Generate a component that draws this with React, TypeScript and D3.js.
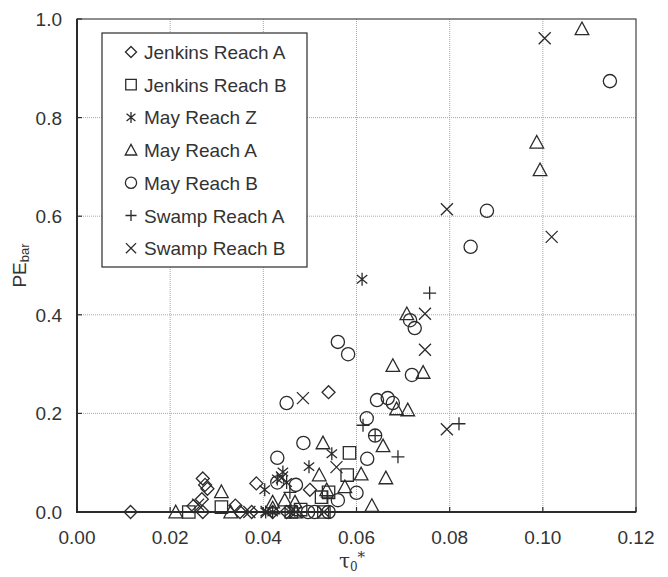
import React from "react";
import * as d3 from "d3";

const xTicks = [0, 0.02, 0.04, 0.06, 0.08, 0.1, 0.12];
const yTicks = [0, 0.2, 0.4, 0.6, 0.8, 1.0];

const jenkinsA: [number, number][] = [
  [0.0115, 0.0], [0.025, 0.012], [0.0268, 0.026], [0.027, 0.068], [0.0275, 0.055],
  [0.028, 0.047], [0.027, 0.0], [0.034, 0.013], [0.035, 0.0], [0.0375, 0.0],
  [0.0385, 0.058], [0.042, 0.0], [0.05, 0.045], [0.054, 0.243], [0.045, 0.0],
];
const jenkinsB: [number, number][] = [
  [0.024, 0.0], [0.031, 0.01], [0.046, 0.0], [0.048, 0.005], [0.0525, 0.03],
  [0.054, 0.04], [0.058, 0.075], [0.0585, 0.12], [0.053, 0.0],
];
const mayZ: [number, number][] = [
  [0.0403, 0.045], [0.043, 0.067], [0.0442, 0.081], [0.0498, 0.092], [0.0547, 0.118],
  [0.0612, 0.472], [0.0405, 0.0], [0.042, 0.0], [0.0457, 0.0], [0.045, 0.06],
];
const mayA: [number, number][] = [
  [0.0212, 0.0], [0.031, 0.041], [0.033, 0.0], [0.042, 0.008], [0.042, 0.02],
  [0.0446, 0.024], [0.0468, 0.02], [0.047, 0.0], [0.052, 0.075], [0.0528, 0.14],
  [0.0536, 0.045], [0.0575, 0.051], [0.061, 0.077], [0.0633, 0.013], [0.0657, 0.134],
  [0.0663, 0.069], [0.0678, 0.297], [0.0686, 0.209], [0.0708, 0.402], [0.071, 0.207],
  [0.0743, 0.283], [0.0987, 0.75], [0.0994, 0.694], [0.1084, 0.98],
];
const mayB: [number, number][] = [
  [0.043, 0.06], [0.043, 0.11], [0.045, 0.221], [0.047, 0.055], [0.0486, 0.14],
  [0.0496, 0.0], [0.051, 0.0], [0.054, 0.0], [0.056, 0.024], [0.056, 0.345],
  [0.0582, 0.32], [0.06, 0.039], [0.0622, 0.19], [0.0623, 0.108], [0.064, 0.155],
  [0.0644, 0.227], [0.0667, 0.231], [0.0678, 0.221], [0.0715, 0.389], [0.0719, 0.278],
  [0.0725, 0.373], [0.0845, 0.538], [0.088, 0.611], [0.1144, 0.874],
];
const swampA: [number, number][] = [
  [0.0457, 0.04], [0.0537, 0.03], [0.054, 0.0], [0.0614, 0.176], [0.064, 0.155],
  [0.0689, 0.112], [0.0757, 0.444], [0.082, 0.179],
];
const swampB: [number, number][] = [
  [0.026, 0.015], [0.037, 0.0], [0.0407, 0.0], [0.044, 0.07], [0.047, 0.0],
  [0.0485, 0.231], [0.0557, 0.091], [0.0747, 0.402], [0.0747, 0.329], [0.0794, 0.168],
  [0.0794, 0.614], [0.1004, 0.961], [0.1019, 0.558], [0.053, 0.0],
];

const seriesNames = [
  "Jenkins Reach A", "Jenkins Reach B", "May Reach Z", "May Reach A",
  "May Reach B", "Swamp Reach A", "Swamp Reach B",
];
const seriesData = [jenkinsA, jenkinsB, mayZ, mayA, mayB, swampA, swampB];
const seriesShapes = ["diamond", "square", "asterisk", "triangle", "circle", "plus", "cross"];

function shapePath(shape: string, cx: number, cy: number, k = 1): string {
  const p = d3.path();
  if (shape === "diamond") {
    const s = 6.5 * k;
    p.moveTo(cx, cy - s); p.lineTo(cx + s, cy); p.lineTo(cx, cy + s); p.lineTo(cx - s, cy); p.closePath();
  } else if (shape === "square") {
    const s = 6.2 * k;
    p.rect(cx - s, cy - s, 2 * s, 2 * s);
  } else if (shape === "asterisk") {
    const s = 6.5 * k;
    const dx = s * 0.8, dy = s * 0.65;
    p.moveTo(cx, cy - s); p.lineTo(cx, cy + s);
    p.moveTo(cx - dx, cy - dy); p.lineTo(cx + dx, cy + dy);
    p.moveTo(cx - dx, cy + dy); p.lineTo(cx + dx, cy - dy);
  } else if (shape === "triangle") {
    const s = 6.8 * k;
    p.moveTo(cx, cy - s); p.lineTo(cx + s, cy + s * 0.85); p.lineTo(cx - s, cy + s * 0.85); p.closePath();
  } else if (shape === "circle") {
    const r = 6.6 * k;
    p.moveTo(cx + r, cy); p.arc(cx, cy, r, 0, 2 * Math.PI);
  } else if (shape === "plus") {
    const s = 6.5 * k;
    p.moveTo(cx - s, cy); p.lineTo(cx + s, cy);
    p.moveTo(cx, cy - s); p.lineTo(cx, cy + s);
  } else {
    const s = 6 * k;
    p.moveTo(cx - s, cy - s); p.lineTo(cx + s, cy + s);
    p.moveTo(cx - s, cy + s); p.lineTo(cx + s, cy - s);
  }
  return p.toString();
}

export default function App() {
  const W = 668, H = 577;
  const left = 77, right = 636, top = 19, bottom = 512;
  const x = d3.scaleLinear().domain([0, 0.12]).range([left, right]);
  const y = d3.scaleLinear().domain([0, 1]).range([bottom, top]);
  const ink = "#2b2b2b";
  const font = "'Liberation Sans', Arial, sans-serif";

  const legendX = 102, legendY = 33, legendW = 205, legendH = 234;
  const legendStep = 32.7, legendFirst = 52;

  return (
    <svg width={W} height={H} style={{ position: "absolute", left: 0, top: 0, background: "#fff" }} fontFamily={font}>
      <rect x={0} y={0} width={W} height={H} fill="#fff" />
      {/* grid */}
      {xTicks.slice(1, -1).map((t) => (
        <line key={"gx" + t} x1={x(t)} x2={x(t)} y1={top} y2={bottom} stroke="#a8a8a8" strokeWidth={1} strokeDasharray="1,1" />
      ))}
      {yTicks.slice(1, -1).map((t) => (
        <line key={"gy" + t} x1={left} x2={right} y1={y(t)} y2={y(t)} stroke="#a8a8a8" strokeWidth={1} strokeDasharray="1,1" />
      ))}
      {/* frame */}
      <rect x={left} y={top} width={right - left} height={bottom - top} fill="none" stroke="#444" strokeWidth={1.2} />
      <line x1={left} x2={left} y1={top} y2={bottom + 1} stroke={ink} strokeWidth={2} />
      <line x1={left - 1} x2={right} y1={bottom} y2={bottom} stroke={ink} strokeWidth={2} />
      {/* ticks */}
      {xTicks.map((t) => (
        <line key={"tx" + t} x1={x(t)} x2={x(t)} y1={bottom} y2={bottom - 5} stroke={ink} strokeWidth={1.2} />
      ))}
      {yTicks.map((t) => (
        <line key={"ty" + t} x1={left} x2={left + 5} y1={y(t)} y2={y(t)} stroke={ink} strokeWidth={1.2} />
      ))}
      {/* tick labels */}
      {xTicks.map((t) => (
        <text key={"lx" + t} x={x(t)} y={544} textAnchor="middle" fontSize={19} fill="#333">
          {d3.format(".2f")(t)}
        </text>
      ))}
      {yTicks.map((t) => (
        <text key={"ly" + t} x={62} y={y(t) + 7} textAnchor="end" fontSize={19} fill="#333">
          {d3.format(".1f")(t)}
        </text>
      ))}
      {/* axis titles */}
      <text x={352} y={568} textAnchor="middle" fontSize={20} fill="#333" fontFamily="'DejaVu Serif', serif">
        τ<tspan fontSize={12} dy={3}>0</tspan><tspan fontSize={15} dy={-9}>*</tspan>
      </text>
      <text transform={`translate(26, ${(top + bottom) / 2}) rotate(-90)`} textAnchor="middle" fontSize={19} fill="#333">
        PE<tspan fontSize={13} dy={3}>bar</tspan>
      </text>
      {/* points */}
      <g fill="none" stroke={ink} strokeWidth={1.3}>
        {seriesData.map((data, i) =>
          data.map((d, j) => (
            <path key={i + "-" + j} d={shapePath(seriesShapes[i], x(d[0]), y(d[1]))} />
          ))
        )}
      </g>
      {/* legend */}
      <rect x={legendX} y={legendY} width={legendW} height={legendH} fill="#fff" stroke={ink} strokeWidth={1.2} />
      {seriesNames.map((name, i) => {
        const cy = legendFirst + i * legendStep;
        return (
          <g key={name}>
            <path d={shapePath(seriesShapes[i], 131, cy, 0.85)} fill="none" stroke={ink} strokeWidth={1.3} />
            <text x={144} y={cy + 7} fontSize={19} fill="#333">{name}</text>
          </g>
        );
      })}
    </svg>
  );
}
